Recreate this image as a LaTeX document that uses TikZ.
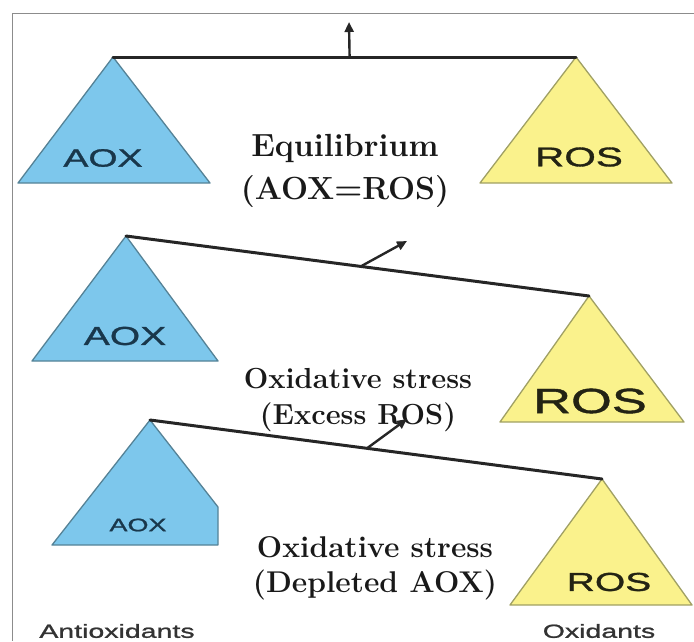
\documentclass[tikz,border=0pt]{standalone}
\usepackage{fontspec}
\newfontfamily\widesans[FakeStretch=1.5,FakeBold=1.2]{Liberation Sans}
\usetikzlibrary{arrows.meta,calc}
\definecolor{aoxblue}{RGB}{125,199,236}
\definecolor{aoxedge}{RGB}{85,130,150}
\definecolor{rosyellow}{RGB}{250,242,140}
\definecolor{rosedge}{RGB}{160,160,100}
\definecolor{aoxtext}{RGB}{25,55,75}
\definecolor{rostext}{RGB}{35,35,20}
\begin{document}
\begin{tikzpicture}[x=1pt, y=-1pt,
				aox/.style={fill=aoxblue, draw=aoxedge, line width=1.3pt, line join=round},
				ros/.style={fill=rosyellow, draw=rosedge, line width=1.3pt, line join=round},
				beam/.style={draw=black!85, line width=3pt, line cap=round},
				lever/.style={draw=black!85, line width=2.4pt, -{Triangle[length=10pt,width=9pt]}},
				tag/.style={inner sep=0, font=\widesans\fontsize{#1}{#1}\selectfont},
				caption/.style={inner sep=0, align=center, text=black!90}]
				
				\useasboundingbox (0,0) rectangle (694,641);
				\draw[black!45, line width=0.8pt] (694,13) -- (12,13) -- (12,641);
				
				\begin{scope}
				\coordinate (aox1) at (113,57);
				\coordinate (ros1) at (576,57);
				\draw[aox] (aox1) -- ++(-95,126) -- ++(192,0) -- cycle;
				\draw[ros] (ros1) -- ++(-96,126) -- ++(192,0) -- cycle;
				\draw[beam] (aox1) -- (ros1);
				\coordinate (mid1) at ($(aox1)!0.511!(ros1)$);
				\coordinate (tip1) at (349,22);
				\draw[lever] (mid1) -- (tip1);
				\node[tag=25, text=aoxtext] (aoxlabel1) at (103,158) {AOX};
				\node[tag=27, text=rostext] (roslabel1) at (579,157) {ROS};
				\node[caption, font=\bfseries\fontsize{32}{43}\selectfont] (equil) at (345,171) {Equilibrium\\(AOX=ROS)};
				\end{scope}
				
				\begin{scope}
				\coordinate (aox2) at (126,236);
				\coordinate (ros2) at (589,296);
				\draw[aox] (aox2) -- ++(-94,125) -- ++(186,0) -- cycle;
				\draw[ros] (ros2) -- ++(-89,126) -- ++(184,0) -- cycle;
				\draw[beam] (aox2) -- (ros2);
				\coordinate (mid2) at ($(aox2)!0.507!(ros2)$);
				\coordinate (tip2) at (407,241);
				\draw[lever] (mid2) -- (tip2);
				\node[tag=26, text=aoxtext] (aoxlabel2) at (125,336) {AOX};
				\node[tag=35, text=rostext] (roslabel2) at (590,401) {ROS};
				\node[caption, font=\bfseries\fontsize{29}{36}\selectfont] (excess) at (358,400) {Oxidative stress\\(Excess ROS)};
				\end{scope}
				
				\begin{scope}
				\coordinate (aox3) at (150,420);
				\coordinate (ros3) at (602,479);
				\draw[aox] (aox3) -- (218,507) -- (218,545) -- (52,545) -- cycle;
				\draw[ros] (ros3) -- ++(-92,126) -- ++(182,0) -- cycle;
				\draw[beam] (aox3) -- (ros3);
				\coordinate (mid3) at ($(aox3)!0.480!(ros3)$);
				\coordinate (tip3) at (407,419);
				\draw[lever] (mid3) -- (tip3);
				\node[tag=18, text=aoxtext] (aoxlabel3) at (138,525) {AOX};
				\node[tag=26, text=rostext] (roslabel3) at (609,582) {ROS};
				\node[caption, font=\bfseries\fontsize{30}{35}\selectfont] (deplete) at (375,568) {Oxidative stress\\(Depleted AOX)};
				\end{scope}
				
				\node[tag=19, text=black!80] (antiox) at (117,631) {Antioxidants};
				\node[tag=19, text=black!80] (oxid) at (599,631) {Oxidants};
				\end{tikzpicture}
\end{document}
